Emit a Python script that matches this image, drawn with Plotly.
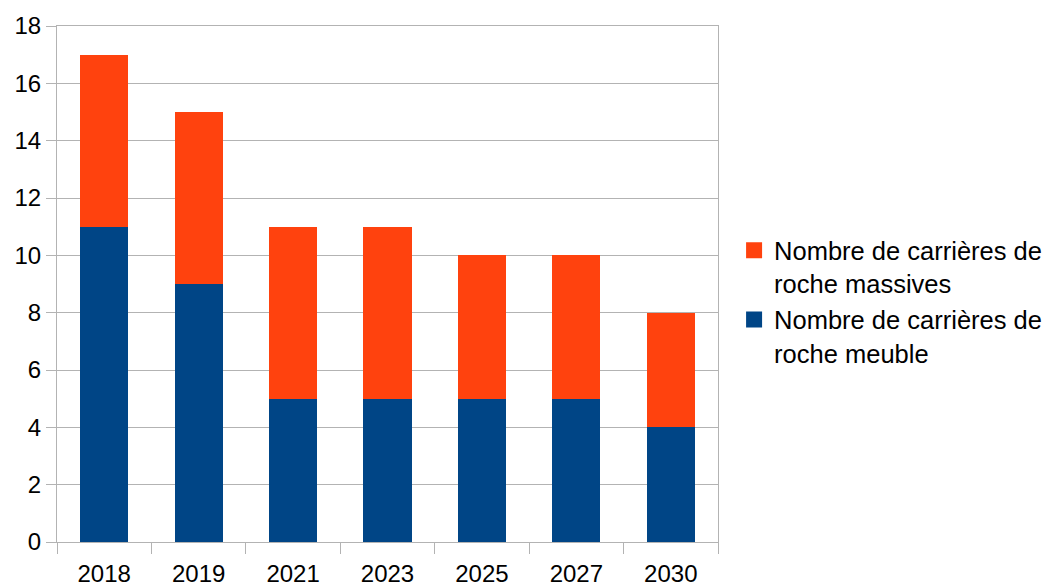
import plotly.graph_objects as go

years = ["2018", "2019", "2021", "2023", "2025", "2027", "2030"]
meuble = [11, 9, 5, 5, 5, 5, 4]
massives = [6, 6, 6, 6, 5, 5, 4]

name_massives = "Nombre de carrières de<br>roche massives"
name_meuble = "Nombre de carrières de<br>roche meuble"
blue = "#004586"
orange = "#ff420e"

fig = go.Figure()
fig.add_trace(go.Bar(x=years, y=meuble, name=name_meuble, showlegend=False,
                     marker=dict(color=blue, line=dict(width=0))))
fig.add_trace(go.Bar(x=years, y=massives, name=name_massives, showlegend=False,
                     marker=dict(color=orange, line=dict(width=0))))
# legend entries (larger square swatches)
fig.add_trace(go.Scatter(x=[None], y=[None], mode="markers", name=name_massives,
                         marker=dict(symbol="square", size=16, color=orange)))
fig.add_trace(go.Scatter(x=[None], y=[None], mode="markers", name=name_meuble,
                         marker=dict(symbol="square", size=16, color=blue)))

grid = "#b3b3b3"
fig.update_layout(
    barmode="stack",
    bargap=0.49,
    width=1046, height=587,
    margin=dict(l=57, r=328, t=26, b=45),
    plot_bgcolor="white", paper_bgcolor="white",
    font=dict(family="Liberation Sans, Arial, sans-serif", size=24, color="#000000"),
    legend=dict(traceorder="normal", xref="container", yref="container",
                x=0.7018, y=0.613, xanchor="left", yanchor="top",
                font=dict(size=25.5), itemwidth=30, valign="top", itemsizing="trace"),
    xaxis=dict(type="category", tickson="boundaries", ticks="outside", ticklen=11, tickcolor=grid,
               showline=True, linecolor=grid, linewidth=1, mirror=True, showgrid=False,
               ticklabelstandoff=10, automargin=False),
    yaxis=dict(range=[0, 18], dtick=2, ticks="outside", ticklen=10, tickcolor=grid,
               showline=True, linecolor=grid, linewidth=1, mirror=True,
               showgrid=True, gridcolor=grid, gridwidth=1, zeroline=False, automargin=False),
)
fig.write_html("out.html", config={"displayModeBar": False},
               post_script="document.body.style.margin='0';")
